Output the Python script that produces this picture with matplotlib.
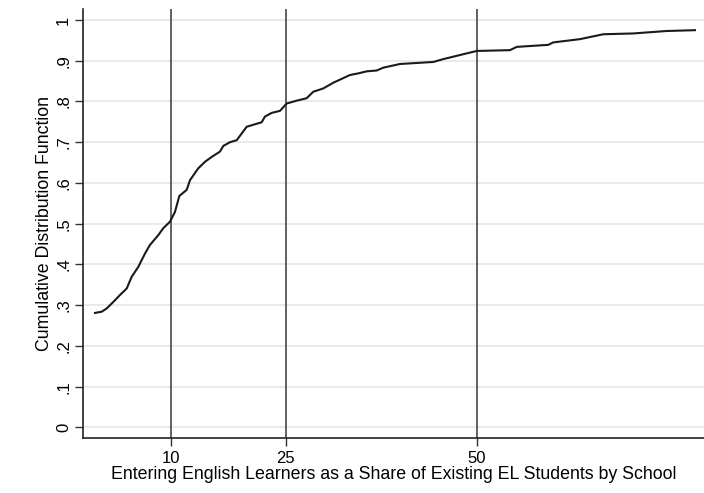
import matplotlib
matplotlib.use("Agg")
import matplotlib.pyplot as plt

plt.rcParams['font.family'] = ['Liberation Sans', 'DejaVu Sans']

share = [0.05, 0.93, 1.58, 2.45, 3.32, 4.20, 4.86, 5.72, 6.60, 7.25, 8.34, 8.99, 9.87,
         10.52, 11.09, 12.05, 12.49, 13.57, 14.45, 15.33, 16.41, 16.85, 17.72, 18.60,
         19.91, 21.87, 22.30, 23.18, 24.27, 25.14, 26.45, 27.76, 28.63, 29.93, 31.24,
         33.43, 34.52, 35.62, 36.92, 37.79, 39.97, 44.33, 45.64, 50.01, 54.37, 55.25,
         59.38, 60.04, 63.53, 66.58, 70.51, 74.88, 78.59]
cdf = [0.281, 0.284, 0.292, 0.308, 0.325, 0.341, 0.370, 0.394, 0.427, 0.448, 0.472,
       0.489, 0.505, 0.529, 0.568, 0.583, 0.607, 0.636, 0.652, 0.664, 0.677, 0.691,
       0.700, 0.705, 0.738, 0.749, 0.763, 0.772, 0.777, 0.795, 0.802, 0.808, 0.824,
       0.832, 0.846, 0.865, 0.869, 0.874, 0.876, 0.883, 0.892, 0.897, 0.904, 0.924,
       0.926, 0.934, 0.939, 0.945, 0.953, 0.965, 0.967, 0.973, 0.975]

xlines = [10, 25, 50]
yticks = [0, 0.1, 0.2, 0.3, 0.4, 0.5, 0.6, 0.7, 0.8, 0.9, 1.0]
yticklabels = ['0', '.1', '.2', '.3', '.4', '.5', '.6', '.7', '.8', '.9', '1']

W, H = 704, 493
fig = plt.figure(figsize=(W / 100, H / 100), dpi=100)
left, right, top, bottom = 83, 704, 9, 438
ax = fig.add_axes([left / W, 1 - bottom / H, (right - left) / W, (bottom - top) / H])

ax.set_xlim(-1.52, 79.77)
ax.set_ylim(-0.026, 1.027)

for y in yticks:
    ax.axhline(y, color='#e6e6e6', lw=1.2, zorder=0)
for x in xlines:
    ax.axvline(x, color='#555555', lw=1.3, zorder=1)

ax.plot(share, cdf, color='#1a1a1a', lw=1.5, zorder=2)

ax.set_xticks(xlines)
ax.set_xticklabels([str(x) for x in xlines], fontsize=12)
ax.set_yticks(yticks)
ax.set_yticklabels(yticklabels, fontsize=12, rotation=90, va='center')
ax.tick_params(axis='both', length=5.5, width=1, color='#333333')
ax.tick_params(axis='x', pad=4)
ax.tick_params(axis='y', pad=3)

for s in ['top', 'right']:
    ax.spines[s].set_visible(False)
for s in ['left', 'bottom']:
    ax.spines[s].set_color('#222222')
    ax.spines[s].set_linewidth(1.2)

ax.set_xlabel('Entering English Learners as a Share of Existing EL Students by School',
              fontsize=12.8, labelpad=0)
ax.set_ylabel('Cumulative Distribution Function', fontsize=12.8)
ax.yaxis.set_label_coords((53 - left) / (right - left), 0.5)

fig.savefig('out.png', dpi=100, facecolor='white')
